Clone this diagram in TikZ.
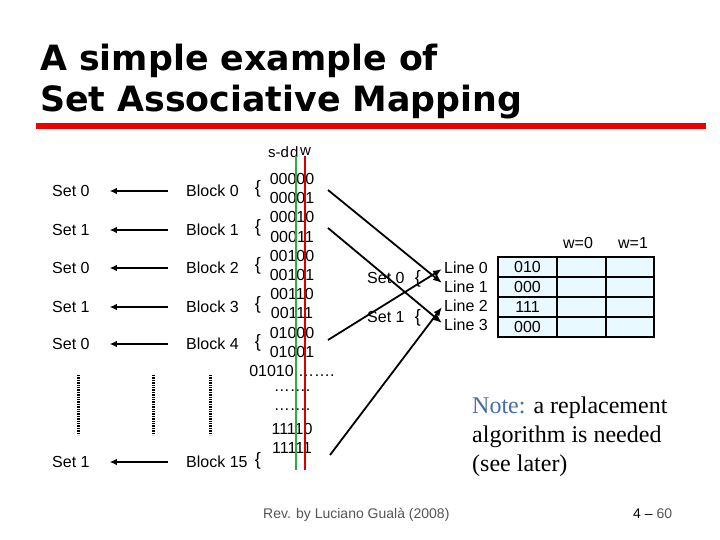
\documentclass[tikz,border=0pt]{standalone}
\usepackage{fontspec}
\setmainfont{Liberation Sans}
\newfontfamily\titlefont{DejaVu Sans Bold}
\newfontfamily\notefont{Liberation Serif}
\usetikzlibrary{arrows.meta}
\definecolor{notecol}{RGB}{70,110,165}
\definecolor{footgray}{RGB}{85,85,85}
\definecolor{cellfill}{RGB}{232,249,255}
\definecolor{gline}{RGB}{40,175,60}
\definecolor{rline}{RGB}{215,0,0}
\definecolor{titlered}{RGB}{240,0,0}
\begin{document}
\begin{tikzpicture}[x=1pt,y=-1pt,
  txt/.style={inner sep=0pt, font=\fontsize{16}{19}\selectfont},
  small/.style={inner sep=0pt, font=\fontsize{14}{16}\selectfont},
  hdr/.style={inner sep=0pt, font=\fontsize{15}{17}\selectfont, anchor=west},
  bracestyle/.style={inner sep=0pt, font=\fontsize{18}{21}\selectfont},
  ttl/.style={anchor=base west, inner sep=0pt, font=\titlefont\fontsize{34.8}{40}\selectfont},
  notestyle/.style={anchor=base west, inner sep=0pt, font=\notefont\fontsize{24}{29}\selectfont},
  blkarrow/.style={line width=2pt, -{Latex[length=7pt,width=6.5pt]}},
  diag/.style={line width=1.8pt, -{Latex[length=9pt,width=7pt]}},
  dotline/.style={line width=3pt, dash pattern=on 1.3pt off 1.1pt},
  cell/.style={draw=black, line width=1.1pt, fill=cellfill, inner sep=0pt, font=\fontsize{16}{19}\selectfont},
]
\useasboundingbox[fill=white] (0,0) rectangle (720,540);

% title
\node[ttl] (t1) at (40,71) {A simple example of};
\node[ttl] (t2) at (40,112) {Set Associative Mapping};
\draw[titlered, line width=6pt] (36,126) -- (706,126);

% header of address
\node[hdr] (sd) at (268,152) {s-d};
\node[hdr] (dd) at (290,152) {d};
\node[hdr] (ww) at (300,152) {w};

% set / block rows
\foreach \k/\y/\s/\b in {0/191/Set 0/Block 0, 1/230/Set 1/Block 1, 2/268/Set 0/Block 2, 3/307/Set 1/Block 3, 4/344/Set 0/Block 4, 15/462/Set 1/Block 15}{
  \node[txt, anchor=west] (s\k) at (52,\y) {\s};
  \node[txt, anchor=west] (b\k) at (186,\y) {\b};
  \draw[blkarrow] ([xshift=-18pt]b\k.west) -- ([xshift=20pt]s\k.east);
}

% braces before address pairs
\foreach \k/\y in {0/189, 1/228, 2/266, 3/305, 4/343, 15/461}{
  \node[bracestyle] (br\k) at (258,\y) {\{};
}

% binary addresses
\foreach \t [count=\i from 0] in {00000,00001,00010,00011,00100,00101,00110,00111,01000,01001,01010 …….,…….,…….,11110,11111}{
  \node[txt] (n\i) at (292,179+19.2*\i) {\t};
}

% coloured split lines
\draw[gline, line width=2.5pt] (296,156) -- (296,470);
\draw[rline, line width=2.5pt] (305,156) -- (305,470);

% dotted columns
\draw[dotline] (78,375) -- (78,435);
\draw[dotline] (153,375) -- (153,435);
\draw[dotline] (210,375) -- (210,435);

% cache sets and lines
\node[txt, anchor=west] (rs0) at (367,278) {Set 0};
\node[txt, anchor=west] (rs1) at (367,317) {Set 1};
\node[bracestyle] (rb0) at (418,279) {\{};
\node[bracestyle] (rb1) at (418,318) {\{};
\node[txt, anchor=west] (l0) at (444,268) {Line 0};
\node[txt, anchor=west] (l1) at (444,287) {Line 1};
\node[txt, anchor=west] (l2) at (444,306) {Line 2};
\node[txt, anchor=west] (l3) at (444,325) {Line 3};

% mapping lines
\coordinate (a0) at (328,190);
\coordinate (a1) at (328,228);
\coordinate (a2) at (328,340);
\coordinate (a3) at (330,455);
\draw[diag] (a0) -- ([xshift=-2pt,yshift=4pt]l1.west);
\draw[diag] (a1) -- ([xshift=-2pt,yshift=2pt]l3.west);
\draw[diag] (a2) -- ([xshift=-2pt,yshift=-1pt]l0.west);
\draw[diag] (a3) -- ([xshift=-2pt,yshift=-1pt]l2.west);

% table
\node[txt] (w0) at (578,243) {w=0};
\node[txt] (w1) at (633,243) {w=1};
\foreach \t [count=\r from 0] in {010,000,111,000}{
  \node[cell, minimum width=59pt, minimum height=20pt] (c\r a) at (527.5,267+20*\r) {\t};
  \node[cell, minimum width=49pt, minimum height=20pt] (c\r b) at (581.5,267+20*\r) {};
  \node[cell, minimum width=48pt, minimum height=20pt] (c\r c) at (630,267+20*\r) {};
}

% note
\node[notestyle] (note1) at (472,413) {\textcolor{notecol}{Note:} a replacement};
\node[notestyle] (note2) at (472,442) {algorithm is needed};
\node[notestyle] (note3) at (472,471) {(see later)};

% footer
\node[small, anchor=base west, text=footgray] (rev) at (263,518) {Rev. by Luciano Gualà (2008)};
\node[small, anchor=base west] (pg) at (633,518) {4 – \textcolor{footgray}{60}};
\end{tikzpicture}
\end{document}
